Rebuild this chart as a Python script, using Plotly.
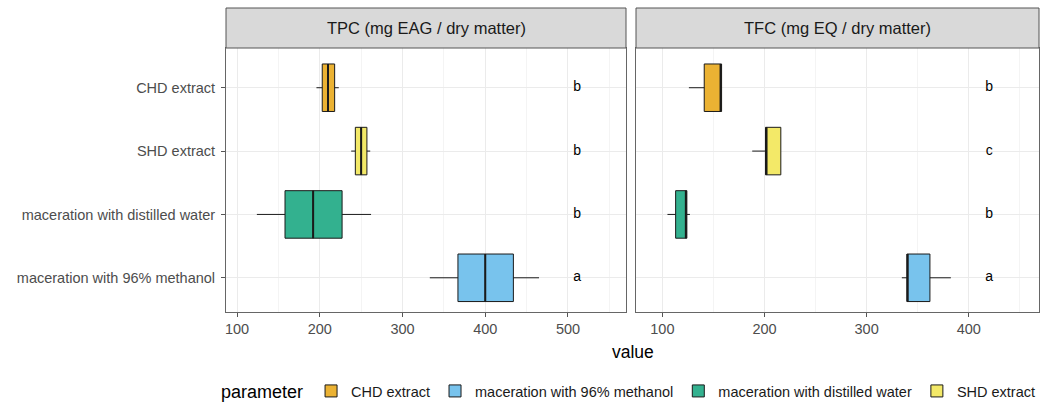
import plotly.graph_objects as go

# ---------------- data ----------------
categories = ["CHD extract", "SHD extract", "maceration with distilled water", "maceration with 96% methanol"]
legend_order = ["CHD extract", "maceration with 96% methanol", "maceration with distilled water", "SHD extract"]
colors = {
    "CHD extract": "#EBB233",
    "maceration with 96% methanol": "#78C3ED",
    "maceration with distilled water": "#33B18F",
    "SHD extract": "#F3E968",
}

panels = ["TPC (mg EAG / dry matter)", "TFC (mg EQ / dry matter)"]

# TPC stats per category (order of `categories`)
tpc_lower = [196, 238, 124, 333]
tpc_q1 = [203, 243, 158, 367]
tpc_median = [210, 250, 192, 400]
tpc_q3 = [218, 257, 227, 434]
tpc_upper = [223, 261, 262, 465]
tpc_letters = ["b", "b", "b", "a"]

# TFC stats per category
tfc_lower = [126, 188, 105, 334.5]
tfc_q1 = [141, 201, 113, 339.5]
tfc_median = [157, 202, 123, 340]
tfc_q3 = [158, 216, 124, 362]
tfc_upper = [158, 216, 127, 382.5]
tfc_letters = ["b", "c", "b", "a"]

x_ticks = [100, 200, 300, 400, 500]

# ---------------- layout constants ----------------
W, H = 1050, 420
FONT = "Liberation Sans, Arial, sans-serif"
plot_top, plot_bot = 48, 312
strip_top = 8
left_dom = [226 / W, 626 / W]
right_dom = [636 / W, 1039 / W]
ydom = [1 - plot_bot / H, 1 - plot_top / H]
letter_x = [511, 420]
xranges = [[86.7, 570.1], [74.2, 468.8]]
yrange = [3.54, -0.627]

stats = [
    (tpc_lower, tpc_q1, tpc_median, tpc_q3, tpc_upper, tpc_letters),
    (tfc_lower, tfc_q1, tfc_median, tfc_q3, tfc_upper, tfc_letters),
]

fig = go.Figure()
shapes = []
annotations = []

for p, (lo, q1, med, q3, up, letters) in enumerate(stats):
    xa = "x" if p == 0 else "x2"
    ya = "y" if p == 0 else "y2"
    for name in legend_order:
        i = categories.index(name)
        fig.add_trace(go.Box(
            y=[name], q1=[q1[i]], median=[med[i]], q3=[q3[i]],
            lowerfence=[lo[i]], upperfence=[up[i]],
            orientation="h", name=name, legendgroup=name,
            showlegend=(p == 0), fillcolor=colors[name],
            line=dict(color="#1a1a1a", width=1), whiskerwidth=0,
            width=0.75, boxpoints=False, xaxis=xa, yaxis=ya,
        ))
        # thicker median line (ggplot fatten)
        shapes.append(dict(type="line", xref=xa, yref=ya,
                           x0=med[i], x1=med[i], y0=i - 0.375, y1=i + 0.375,
                           line=dict(color="#1a1a1a", width=2)))
    fig.add_trace(go.Scatter(
        x=[letter_x[p]] * len(categories), y=categories, text=letters,
        mode="text", textfont=dict(family=FONT, size=14, color="black"),
        showlegend=False, xaxis=xa, yaxis=ya, hoverinfo="skip",
    ))

# strips
for p, dom in enumerate([left_dom, right_dom]):
    shapes.append(dict(type="rect", xref="paper", yref="paper",
                       x0=dom[0], x1=dom[1], y0=1 - plot_top / H, y1=1 - strip_top / H,
                       fillcolor="#D9D9D9", line=dict(color="#555555", width=1), layer="above"))
    annotations.append(dict(text=panels[p], xref="paper", yref="paper",
                            x=(dom[0] + dom[1]) / 2, y=1 - (plot_top + strip_top) / 2 / H,
                            showarrow=False, font=dict(family=FONT, size=16.5, color="#1A1A1A"),
                            xanchor="center", yanchor="middle"))

annotations.append(dict(text="value", xref="paper", yref="paper",
                        x=(left_dom[0] + right_dom[1]) / 2, y=1 - 352 / H,
                        showarrow=False, font=dict(family=FONT, size=17.5, color="black"),
                        xanchor="center", yanchor="middle"))

def xaxis(dom, rng):
    return dict(domain=dom, range=rng, tickvals=x_ticks, showgrid=True,
                gridcolor="#EBEBEB", gridwidth=1,
                minor=dict(dtick=50, tick0=0, showgrid=True, gridcolor="#F4F4F4", gridwidth=0.6),
                showline=True, mirror=True, linecolor="#666666", linewidth=1,
                ticks="outside", ticklen=4, tickcolor="#555555",
                tickfont=dict(family=FONT, size=14.5, color="#4D4D4D"), zeroline=False,
                fixedrange=True)

def yaxis(show):
    return dict(domain=ydom, type="category", categoryorder="array", categoryarray=categories,
                range=yrange, showgrid=True, gridcolor="#EBEBEB", gridwidth=1,
                showline=True, mirror=True, linecolor="#666666", linewidth=1,
                ticks="outside" if show else "", ticklen=4, tickcolor="#555555",
                showticklabels=show, ticklabelstandoff=3,
                tickfont=dict(family=FONT, size=14.5, color="#4D4D4D"), zeroline=False)

fig.update_layout(
    width=W, height=H, margin=dict(l=0, r=0, t=0, b=0),
    paper_bgcolor="white", plot_bgcolor="white",
    font=dict(family=FONT),
    xaxis=xaxis(left_dom, xranges[0]),
    xaxis2=dict(xaxis(right_dom, xranges[1]), anchor="y2"),
    yaxis=yaxis(True),
    yaxis2=dict(yaxis(False), anchor="x2"),
    shapes=shapes, annotations=annotations,
    boxmode="overlay",
    legend=dict(orientation="h", x=0.6, xanchor="center", y=1 - 392 / H, yanchor="middle",
                title=dict(text="parameter", side="left", font=dict(family=FONT, size=18, color="black")),
                font=dict(family=FONT, size=14.5, color="#1A1A1A"), traceorder="normal",
                itemwidth=30),
    showlegend=True,
)
fig.update_layout(xaxis=dict(anchor="y"), yaxis=dict(anchor="x"))

fig.write_html("out.html")
